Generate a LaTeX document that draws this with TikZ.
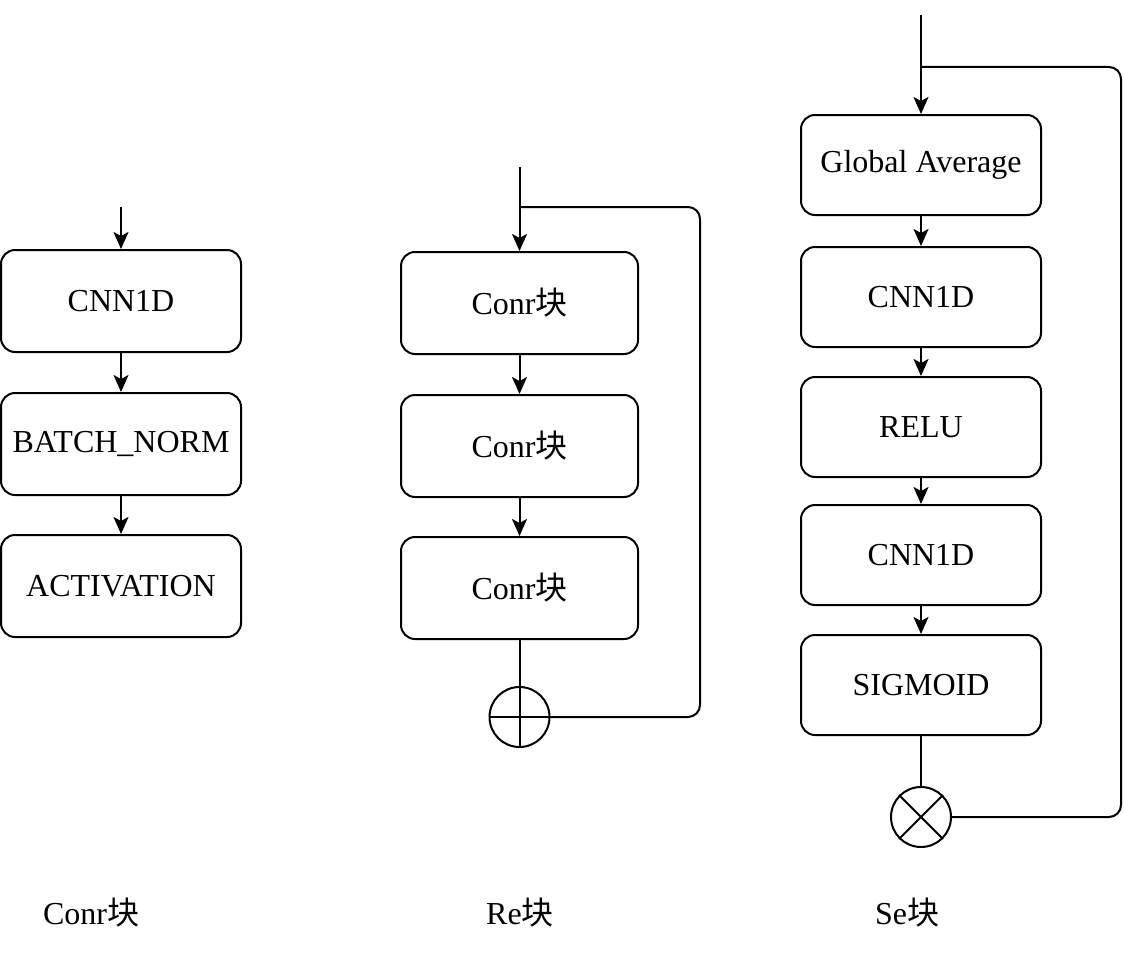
\documentclass[tikz,border=0pt]{standalone}
\usepackage{fontspec}
\setmainfont{Liberation Serif}
\newfontfamily\cjk{Noto Sans CJK SC}
\usetikzlibrary{arrows.meta,calc}
\begin{document}
\begin{tikzpicture}[x=1pt,y=-1pt,
  box/.style={draw, line width=2pt, rounded corners=14pt, minimum width=240pt, minimum height=102pt, inner sep=0pt, font=\fontsize{32}{38}\selectfont},
  conn/.style={line width=2pt},
  arr/.style={conn, -{Stealth[length=17pt,width=15pt,inset=4pt]}},
  lbl/.style={font=\fontsize{32}{38}\selectfont, inner sep=0pt},
  op/.style={draw, circle, line width=2pt, minimum size=60pt, inner sep=0pt}]
\useasboundingbox (0,0) rectangle (1124,958);

% Conr block
\node[box] (a1) at (121,301) {CNN1D};
\node[box] (a2) at (121,444) {BATCH\_NORM};
\node[box] (a3) at (121,586) {ACTIVATION};
\coordinate (a0) at (121,207);
\draw[arr] (a0) -- (a1);
\draw[arr] (a1) -- (a2);
\draw[arr] (a2) -- (a3);

% Re block
\node[box, minimum width=237pt] (b1) at (519.5,303) {Conr{\cjk 块}};
\node[box, minimum width=237pt] (b2) at (519.5,446) {Conr{\cjk 块}};
\node[box, minimum width=237pt] (b3) at (519.5,588) {Conr{\cjk 块}};
\node[op] (bp) at (519.5,717) {};
\draw[conn] (bp.north) -- (bp.south) (bp.west) -- (bp.east);
\coordinate (b0) at (519.5,167);
\coordinate (bs) at (519.5,207);
\coordinate (bc) at (700,207);
\draw[arr] (b0) -- (b1);
\draw[arr] (b1) -- (b2);
\draw[arr] (b2) -- (b3);
\draw[conn] (b3) -- (bp);
\draw[conn, rounded corners=12pt] (bs) -- (bc) |- (bp.east);

% Se block
\node[box, minimum height=100pt] (c1) at (921,165) {Global Average};
\node[box, minimum height=100pt] (c2) at (921,297) {CNN1D};
\node[box, minimum height=100pt] (c3) at (921,427) {RELU};
\node[box, minimum height=100pt] (c4) at (921,555) {CNN1D};
\node[box, minimum height=100pt] (c5) at (921,685) {SIGMOID};
\node[op] (cx) at (921,817) {};
\draw[conn] (cx.north west) -- (cx.south east) (cx.north east) -- (cx.south west);
\coordinate (c0) at (921,15);
\coordinate (cs) at (921,67);
\coordinate (cc) at (1121,67);
\draw[arr] (c0) -- (c1);
\draw[arr] (c1) -- (c2);
\draw[arr] (c2) -- (c3);
\draw[arr] (c3) -- (c4);
\draw[arr] (c4) -- (c5);
\draw[conn] (c5) -- (cx);
\draw[conn, rounded corners=12pt] (cs) -- (cc) |- (cx.east);

% labels
\node[lbl] (l1) at (91,913) {Conr{\cjk 块}};
\node[lbl] (l2) at (520,913) {Re{\cjk 块}};
\node[lbl] (l3) at (907,913) {Se{\cjk 块}};
\end{tikzpicture}
\end{document}
